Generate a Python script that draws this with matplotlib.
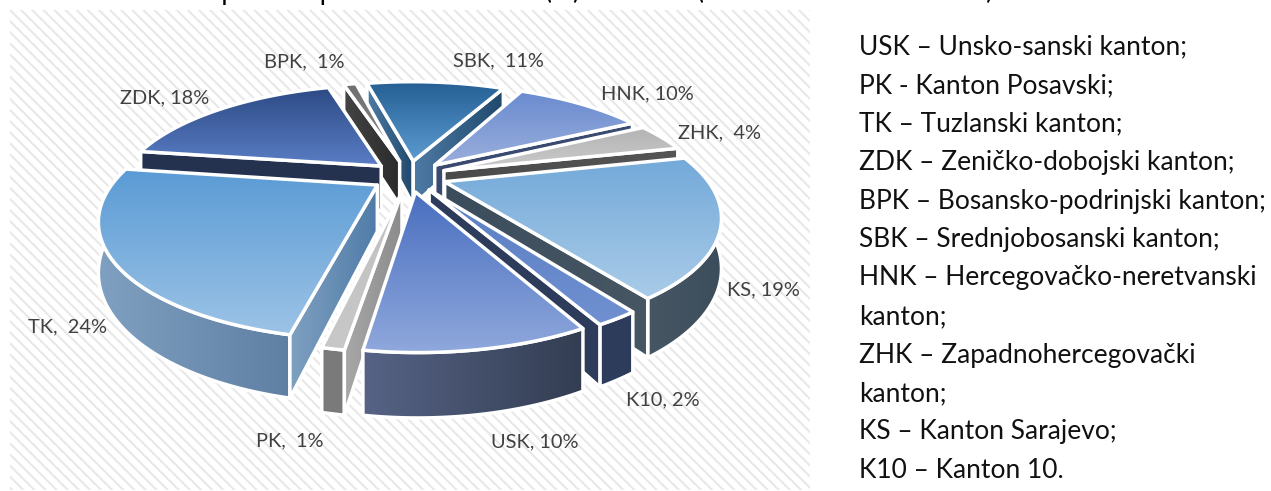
import numpy as np
import matplotlib
matplotlib.use('Agg')
import matplotlib.pyplot as plt
from matplotlib.patches import Polygon, Rectangle

labels = ['USK', 'PK', 'TK', 'ZDK', 'BPK', 'SBK', 'HNK', 'ZHK', 'KS', 'K10']
values = [10, 1, 24, 18, 1, 11, 10, 4, 19, 2]
label_text = ['USK, 10%', 'PK,  1%', 'TK,  24%', 'ZDK, 18%', 'BPK,  1%',
              'SBK,  11%', 'HNK, 10%', 'ZHK,  4%', 'KS, 19%', 'K10, 2%']
label_x = [535, 290, 67, 165, 304, 498, 647, 720, 763, 663]
label_y = [442, 441, 327, 98, 62, 61, 94, 133, 290, 400]
top_from = ['#4a6fc0', '#c0c0c0', '#5b9bd5', '#2c4a85', '#6f6f6f', '#255f94', '#6a8bcf', '#b4b4b4', '#73a9d9', '#5a7fc4']
top_to = ['#8fa8dc', '#c8c8c8', '#9cc3e6', '#5a7dc4', '#8a8a8a', '#5b9bd0', '#9aaedc', '#cbcbcb', '#a9cbe8', '#7090d0']
wall_from = ['#566385', '#7a7a7a', '#7fa0c0', '#25324f', '#2b2b2b', '#20486b', '#3a4a70', '#555555', '#475663', '#2e3c5c']
wall_to = ['#333d52', '#7a7a7a', '#5f80a3', '#25324f', '#444444', '#4e7ba5', '#3a4a70', '#4a4a4a', '#3b4d5c', '#2e3c5c']
cut_left = ['#333d52', '#a8a8a8', '#7fa0c0', '#25324f', '#444444', '#4e7ba5', '#3a4a70', '#4a4a4a', '#3b4d5c', '#2e3c5c']
cut_right = ['#566385', '#8c8c8c', '#4f7ca8', '#25324f', '#2b2b2b', '#20486b', '#3a4a70', '#555555', '#475663', '#2e3c5c']
legend_lines = ['USK – Unsko-sanski kanton;', 'PK - Kanton Posavski;', 'TK – Tuzlanski kanton;',
                'ZDK – Zeničko-dobojski kanton;', 'BPK – Bosansko-podrinjski kanton;',
                'SBK – Srednjobosanski kanton;', 'HNK – Hercegovačko-neretvanski', 'kanton;',
                'ZHK – Zapadnohercegovački', 'kanton;', 'KS – Kanton Sarajevo;', 'K10 – Kanton 10.']
title_parts = ['Učešće ispitanika prema kantonima', '(%) u odnosu', '(svih deset kantona FBiH)']
title_x = [113, 545, 697]

start = 152.5
explode = 0.145
cx, cy, A, B, k, H = 409.0, 176.0, 260.0, 107.5, 0.266, 62.0


def project(X, Y, z=0.0):
    w = 1 - k * Y
    return cx + A * X / w, cy + (B * Y + z * H * (1 - k)) / w


def hex2rgb(c):
    return np.array(matplotlib.colors.to_rgb(c))


def fill(ax, pts, c0, c1, vertical=True, zo=2):
    pts = np.array(pts)
    x0, y0 = pts.min(axis=0)
    x1, y1 = pts.max(axis=0)
    t = np.linspace(0, 1, 64)
    grad = (1 - t)[:, None] * hex2rgb(c0) + t[:, None] * hex2rgb(c1)
    img = grad[:, None, :] if vertical else grad[None, :, :]
    im = ax.imshow(img, extent=(x0, x1, y1, y0), aspect='auto', zorder=zo, interpolation='bilinear')
    edge = Polygon(pts, closed=True, fc='none', ec='white', lw=2.5, joinstyle='round', zorder=zo + 0.01)
    ax.add_patch(edge)
    im.set_clip_path(edge)


plt.rcParams['font.family'] = ['Lato', 'DejaVu Sans']
plt.rcParams['hatch.linewidth'] = 1.5
fig = plt.figure(figsize=(12.71, 4.91), dpi=100)
ax = fig.add_axes([0, 0, 1, 1])
ax.set_xlim(0, 1271)
ax.set_ylim(491, 0)
ax.axis('off')

ax.add_patch(Rectangle((10, 10), 800, 480, fc='white', ec='#e8e8e8', lw=0, hatch='\\\\\\', zorder=0.5))

total = sum(values)
angle = start
wedges = []
for i, v in enumerate(values):
    span = 360.0 * v / total
    wedges.append((i, angle, angle + span))
    angle += span

# back to front, then paint
order = sorted(wedges, key=lambda w: -np.cos(np.radians((w[1] + w[2]) / 2)))
for n, (i, a0, a1) in enumerate(order):
    mid = np.radians((a0 + a1) / 2)
    ox, oy = explode * np.sin(mid), -explode * np.cos(mid)
    th = np.radians(np.linspace(a0, a1, 60))
    rx = ox + np.sin(th)
    ry = oy - np.cos(th)
    zo = 2 + n
    top = [project(ox, oy)] + [project(x, y) for x, y in zip(rx, ry)]
    # outer wall, only the part turned to the viewer
    vis = ry > 0
    if vis.any():
        wx, wy = rx[vis], ry[vis]
        wall = [project(x, y) for x, y in zip(wx, wy)] + [project(x, y, 1) for x, y in zip(wx[::-1], wy[::-1])]
        fill(ax, wall, wall_from[i], wall_to[i], vertical=False, zo=zo)
    # radial cuts
    for ang, sign in ((a0, -1), (a1, 1)):
        t = np.radians(ang)
        nx, ny = sign * np.cos(t), sign * np.sin(t)
        ex, ey = ox + np.sin(t), oy - np.cos(t)
        if nx * (0 - ox) + ny * (1 / k - oy) > 0:
            cut = [project(ox, oy), project(ex, ey), project(ex, ey, 1), project(ox, oy, 1)]
            fill(ax, cut, cut_left[i], cut_right[i], vertical=False, zo=zo + 0.1)
    fill(ax, top, top_from[i], top_to[i], zo=zo + 0.2)

for s, x, y in zip(label_text, label_x, label_y):
    ax.text(x, y, s, ha='center', va='center', fontsize=14.4, color='#404040', zorder=30)

for s, x in zip(title_parts, title_x):
    ax.text(x, -0.5, s, ha='left', va='baseline', fontsize=19, color='black', clip_on=True)
for n, s in enumerate(legend_lines):
    ax.text(859, 47 + n * 38.5, s, ha='left', va='center', fontsize=19, color='#111111')

fig.savefig('out.png', dpi=100)
